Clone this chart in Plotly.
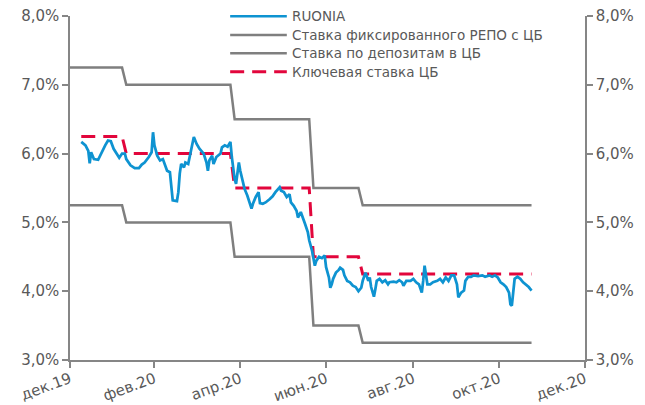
import plotly.graph_objects as go

# RUONIA, %
ruonia_dates = [
    "2020-01-09","2020-01-12","2020-01-14","2020-01-15","2020-01-16","2020-01-18","2020-01-21","2020-01-23",
    "2020-01-26","2020-01-28","2020-01-30","2020-02-01","2020-02-03","2020-02-05","2020-02-07","2020-02-09",
    "2020-02-10","2020-02-13","2020-02-16","2020-02-19","2020-02-21","2020-02-23","2020-02-26","2020-02-28",
    "2020-02-29","2020-03-01","2020-03-03","2020-03-05","2020-03-07","2020-03-08","2020-03-10","2020-03-12",
    "2020-03-13","2020-03-14","2020-03-17","2020-03-18","2020-03-19","2020-03-20","2020-03-22","2020-03-23",
    "2020-03-25","2020-03-27","2020-03-29","2020-03-31","2020-04-02","2020-04-05","2020-04-07","2020-04-08",
    "2020-04-09","2020-04-11","2020-04-12","2020-04-14","2020-04-17","2020-04-18","2020-04-20","2020-04-22",
    "2020-04-24","2020-04-25","2020-04-27","2020-04-28","2020-04-30","2020-05-01","2020-05-03","2020-05-04",
    "2020-05-06","2020-05-07","2020-05-09","2020-05-10","2020-05-12","2020-05-14","2020-05-15","2020-05-17",
    "2020-05-19","2020-05-22","2020-05-24","2020-05-26","2020-05-29","2020-05-30","2020-06-01","2020-06-03",
    "2020-06-05","2020-06-06","2020-06-08","2020-06-10","2020-06-11","2020-06-13","2020-06-14","2020-06-16",
    "2020-06-18","2020-06-19","2020-06-21","2020-06-22","2020-06-23","2020-06-24","2020-06-26","2020-06-28",
    "2020-06-30","2020-07-01","2020-07-03","2020-07-04","2020-07-05","2020-07-06","2020-07-08","2020-07-10",
    "2020-07-11","2020-07-13","2020-07-14","2020-07-16","2020-07-18","2020-07-20","2020-07-22","2020-07-24",
    "2020-07-26","2020-07-27","2020-07-29","2020-07-31","2020-08-01","2020-08-02","2020-08-04","2020-08-05",
    "2020-08-06","2020-08-08","2020-08-10","2020-08-12","2020-08-14","2020-08-15","2020-08-18","2020-08-20",
    "2020-08-22","2020-08-24","2020-08-25","2020-08-27","2020-08-30","2020-09-01","2020-09-03","2020-09-05",
    "2020-09-07","2020-09-08","2020-09-09","2020-09-11","2020-09-13","2020-09-15","2020-09-18","2020-09-20",
    "2020-09-22","2020-09-24","2020-09-26","2020-09-28","2020-09-30","2020-10-02","2020-10-03","2020-10-05",
    "2020-10-07","2020-10-08","2020-10-10","2020-10-12","2020-10-14","2020-10-17","2020-10-20","2020-10-22",
    "2020-10-25","2020-10-27","2020-10-29","2020-10-31","2020-11-02","2020-11-04","2020-11-06","2020-11-08",
    "2020-11-09","2020-11-10","2020-11-11","2020-11-12","2020-11-14","2020-11-16","2020-11-18","2020-11-20",
    "2020-11-22","2020-11-24",
]
ruonia_values = [
    6.17,6.12,6.04,5.86,6.02,5.92,5.91,6.00,
    6.12,6.19,6.18,6.07,6.00,5.94,6.00,6.00,
    5.92,5.83,5.79,5.79,5.84,5.87,5.95,6.02,
    6.31,6.12,5.97,5.90,5.92,5.87,5.75,5.73,
    5.54,5.32,5.31,5.44,5.71,5.85,5.80,5.87,
    5.85,6.07,6.24,6.14,6.07,6.00,5.87,5.75,
    5.90,5.97,5.85,5.95,6.00,6.09,6.12,6.10,
    6.17,5.95,5.63,5.56,5.87,5.75,5.58,5.49,
    5.39,5.32,5.20,5.27,5.37,5.44,5.28,5.27,
    5.29,5.34,5.38,5.44,5.51,5.46,5.44,5.37,
    5.41,5.29,5.24,5.17,5.07,5.15,5.10,4.98,
    4.86,4.74,4.59,4.49,4.37,4.44,4.50,4.48,
    4.52,4.35,4.20,4.05,4.10,4.18,4.27,4.31,
    4.34,4.31,4.23,4.15,4.13,4.08,4.06,4.00,
    4.05,4.15,4.27,4.15,4.20,4.06,3.92,4.03,
    4.15,4.18,4.13,4.16,4.10,4.13,4.14,4.13,
    4.16,4.13,4.08,4.15,4.15,4.18,4.13,4.10,
    3.98,4.15,4.37,4.10,4.10,4.13,4.15,4.18,
    4.13,4.20,4.15,4.23,4.23,4.10,3.91,3.98,
    4.01,4.15,4.21,4.21,4.23,4.22,4.23,4.21,
    4.23,4.21,4.23,4.20,4.13,4.10,4.06,3.98,
    3.81,3.79,4.01,4.18,4.21,4.18,4.13,4.10,
    4.06,4.01,
]

# Key rate and corridor (step dates)
key_dates = ["2020-01-09","2020-02-07","2020-02-10","2020-04-24","2020-04-27",
             "2020-06-19","2020-06-22","2020-07-24","2020-07-27","2020-11-24"]
key_values = [6.25,6.25,6.00,6.00,5.50,5.50,4.50,4.50,4.25,4.25]

corr_dates = ["2020-01-01","2020-02-07","2020-02-10","2020-04-24","2020-04-27",
              "2020-06-19","2020-06-22","2020-07-24","2020-07-27","2020-11-24"]
repo_values = [7.25,7.25,7.00,7.00,6.50,6.50,5.50,5.50,5.25,5.25]
deposit_values = [5.25,5.25,5.00,5.00,4.50,4.50,3.50,3.50,3.25,3.25]

tick_dates = ["2020-01-01","2020-03-01","2020-05-01","2020-07-01","2020-09-01","2020-11-01","2021-01-01"]
tick_labels = ["дек.19","фев.20","апр.20","июн.20","авг.20","окт.20","дек.20"]

names = ["RUONIA", "Ставка фиксированного РЕПО с ЦБ", "Ставка по депозитам в ЦБ", "Ключевая ставка ЦБ"]

BLUE = "#0E93D1"
GRAY = "#7F7F7F"
RED = "#E2063C"
TXT = "#595959"
FONT = "DejaVu Sans"

fig = go.Figure()
fig.add_trace(go.Scatter(x=corr_dates, y=repo_values, mode="lines", name=names[1],
                         line=dict(color=GRAY, width=2.5), showlegend=False))
fig.add_trace(go.Scatter(x=corr_dates, y=deposit_values, mode="lines", name=names[2],
                         line=dict(color=GRAY, width=2.5), showlegend=False))
fig.add_trace(go.Scatter(x=key_dates, y=key_values, mode="lines", name=names[3],
                         line=dict(color=RED, width=3, dash="14px,8px"), showlegend=False))
fig.add_trace(go.Scatter(x=ruonia_dates, y=ruonia_values, mode="lines", name=names[0],
                         line=dict(color=BLUE, width=2.75), showlegend=False))
# right axis carrier
fig.add_trace(go.Scatter(x=ruonia_dates, y=ruonia_values, yaxis="y2", mode="lines",
                         line=dict(width=0), opacity=0, showlegend=False, hoverinfo="skip"))

# manual legend
leg_y = [0.999, 0.945, 0.892, 0.838]
leg_styles = [dict(color=BLUE, width=2.5), dict(color=GRAY, width=2.5),
              dict(color=GRAY, width=2.5), dict(color=RED, width=3, dash="14px,8px")]
for nm, yy, st in zip(names, leg_y, leg_styles):
    fig.add_shape(type="line", xref="paper", yref="paper", x0=0.311, x1=0.421, y0=yy, y1=yy, line=st)
    fig.add_annotation(xref="paper", yref="paper", x=0.428, y=yy, text=nm, showarrow=False,
                       xanchor="left", yanchor="middle", font=dict(family=FONT, size=13.5, color=TXT))

axis_common = dict(showline=True, linecolor="#868686", linewidth=1.5, ticks="outside",
                   ticklen=6, tickcolor="#868686", tickwidth=1.5, showgrid=False, zeroline=False,
                   automargin=False, ticklabeloverflow="allow",
                   tickfont=dict(family=FONT, size=15, color=TXT))

fig.update_layout(
    width=637, height=405,
    margin=dict(l=62, r=60, t=8, b=53.4),
    paper_bgcolor="white", plot_bgcolor="white",
    separators=", ",
    showlegend=False,
    xaxis=dict(type="date", range=["2020-01-01", "2021-01-01"], tickmode="array",
               tickvals=tick_dates, ticktext=tick_labels, tickangle=-20, ticklabelstandoff=-3,
               **axis_common),
    yaxis=dict(range=[3, 8], dtick=1, tick0=3, tickformat=".1f", ticksuffix="%", side="left",
               **axis_common),
    yaxis2=dict(range=[3, 8], dtick=1, tick0=3, tickformat=".1f", ticksuffix="%", side="right",
                overlaying="y", **axis_common),
)

fig.write_html("out.html")
